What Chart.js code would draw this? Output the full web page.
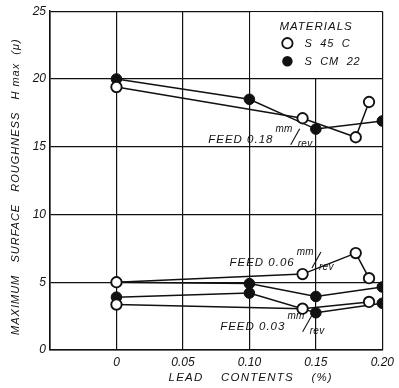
<!DOCTYPE html>
<html>
<head>
<meta charset="utf-8">
<script src="https://cdn.jsdelivr.net/npm/chart.js@4/dist/chart.umd.min.js"></script>
<style>
  html, body { margin: 0; padding: 0; background: #fff; }
  canvas { display: block; }
</style>
</head>
<body>
<canvas id="roughness" width="399" height="388"></canvas>
<script>
// lead content (%) at which each steel was tested
const leadScm22 = [0, 0.10, 0.15, 0.20];
const leadS45c = [0, 0.14, 0.18, 0.19];
const leadS45cFine = [0, 0.14, 0.19];

// H max (micron) per feed rate
const scm22Feed018 = [20.0, 18.5, 16.3, 16.9];
const s45cFeed018 = [19.4, 17.1, 15.7, 18.3];
const scm22Feed006 = [5.0, 4.9, 3.95, 4.65];
const s45cFeed006 = [5.0, 5.6, 7.15, 5.3];
const scm22Feed003 = [3.9, 4.2, 2.75, 3.45];
const s45cFeed003 = [3.35, 3.05, 3.55];

const feedRates = ['0.18', '0.06', '0.03'];
const materials = ['S 45 C', 'S CM 22'];

const xTicks = [-0.05, 0, 0.05, 0.10, 0.15, 0.20];
const xTickLabels = ['', '0', '0.05', '0.10', '0.15', '0.20'];
const yTicks = [0, 5, 10, 15, 20, 25];

const FONT = '"Liberation Sans", Arial, sans-serif';
const INK = '#111';

const pts = (xs, ys) => xs.map((x, i) => ({ x, y: ys[i] }));

function filled(data) {
  return { data, borderColor: INK, backgroundColor: INK, pointBackgroundColor: INK,
    pointBorderColor: INK, borderWidth: 1.5, pointRadius: 5.3, pointBorderWidth: 1 };
}
function open(data) {
  return { data, borderColor: INK, backgroundColor: '#fff', pointBackgroundColor: '#fff',
    pointBorderColor: INK, borderWidth: 1.5, pointRadius: 5.2, pointBorderWidth: 1.9 };
}

function spaced(ctx, text, x, y, spacing) {
  ctx.letterSpacing = spacing + 'px';
  ctx.fillText(text, x, y);
  ctx.letterSpacing = '0px';
}

// "FEED 0.18 mm/rev" with the unit set as a stacked fraction
function feedLabel(ctx, px, py, rate) {
  ctx.textAlign = 'left';
  ctx.textBaseline = 'alphabetic';
  ctx.font = 'italic 11.5px ' + FONT;
  ctx.letterSpacing = '1px';
  const main = 'FEED ' + rate;
  ctx.fillText(main, px, py);
  const cx = px + ctx.measureText(main).width + 2;
  ctx.font = 'italic 10px ' + FONT;
  ctx.letterSpacing = '0.3px';
  ctx.fillText('mm', cx, py - 11);
  const mw = ctx.measureText('mm').width;
  ctx.beginPath();
  ctx.moveTo(cx + mw - 2, py + 2);
  ctx.lineTo(cx + mw + 7, py - 14);
  ctx.lineWidth = 1.1;
  ctx.strokeStyle = INK;
  ctx.stroke();
  ctx.fillText('rev', cx + mw + 5, py + 4);
  ctx.letterSpacing = '0px';
}

const annotate = {
  id: 'annotate',
  beforeDatasetsDraw(chart) {
    // legend panel blanks out the grid in the top-right cell
    const { ctx, scales: { x, y } } = chart;
    const l = x.getPixelForValue(0.10), r = x.getPixelForValue(0.20);
    const t = y.getPixelForValue(25), b = y.getPixelForValue(20);
    ctx.save();
    ctx.fillStyle = '#fff';
    ctx.fillRect(l + 1, t + 1, r - l - 2, b - t - 2);
    ctx.restore();
  },
  afterDraw(chart) {
    const { ctx, chartArea: ca, scales: { x, y } } = chart;
    ctx.save();
    ctx.fillStyle = INK;

    // legend
    const lx = x.getPixelForValue(0.10) + 30;
    ctx.font = 'italic 11.5px ' + FONT;
    ctx.textAlign = 'left';
    ctx.textBaseline = 'alphabetic';
    spaced(ctx, 'MATERIALS', lx, ca.top + 19, 1);
    const rows = [ca.top + 36, ca.top + 54];
    materials.forEach((name, i) => {
      ctx.beginPath();
      ctx.arc(lx + 8, rows[i] - 4, 5.2, 0, Math.PI * 2);
      if (i === 0) {
        ctx.fillStyle = '#fff'; ctx.fill();
        ctx.lineWidth = 1.8; ctx.strokeStyle = INK; ctx.stroke();
      } else {
        ctx.fillStyle = INK; ctx.fill();
      }
      ctx.fillStyle = INK;
      ctx.font = 'italic 11px ' + FONT;
      spaced(ctx, name.replace(/ /g, '  '), lx + 25, rows[i], 0.8);
    });

    // feed rate captions
    feedLabel(ctx, x.getPixelForValue(0.069), y.getPixelForValue(15.3), feedRates[0]);
    feedLabel(ctx, x.getPixelForValue(0.085), y.getPixelForValue(6.2), feedRates[1]);
    feedLabel(ctx, x.getPixelForValue(0.078), y.getPixelForValue(1.5), feedRates[2]);

    // axis titles
    ctx.font = 'italic 11.5px ' + FONT;
    ctx.textAlign = 'center';
    ctx.textBaseline = 'alphabetic';
    spaced(ctx, 'LEAD    CONTENTS    (%)', x.getPixelForValue(0.101), ca.bottom + 31, 1.2);

    ctx.translate(ca.left - 31, (ca.top + ca.bottom) / 2 + 6);
    ctx.rotate(-Math.PI / 2);
    ctx.font = 'italic 11px ' + FONT;
    spaced(ctx, 'MAXIMUM   SURFACE   ROUGHNESS   H max  (\u03bc)', 0, 0, 1.0);
    ctx.restore();
  }
};

new Chart(document.getElementById('roughness'), {
  type: 'line',
  data: {
    // earlier datasets are painted last, so the open circles stay on top
    datasets: [
      open(pts(leadS45c, s45cFeed018)),
      open(pts(leadS45c, s45cFeed006)),
      open(pts(leadS45cFine, s45cFeed003)),
      filled(pts(leadScm22, scm22Feed018)),
      filled(pts(leadScm22, scm22Feed006)),
      filled(pts(leadScm22, scm22Feed003))
    ]
  },
  options: {
    responsive: false,
    animation: false,
    layout: { autoPadding: false, padding: { left: 0, right: 8, top: 11, bottom: 0 } },
    plugins: { legend: { display: false }, tooltip: { enabled: false } },
    elements: { line: { tension: 0, fill: false } },
    scales: {
      x: {
        type: 'linear',
        min: -0.05,
        max: 0.20,
        afterBuildTicks: (scale) => { scale.ticks = xTicks.map((value) => ({ value })); },
        afterFit: (scale) => { scale.height = 38; },
        grid: { color: INK, lineWidth: 1.2, drawTicks: false },
        border: { color: INK, width: 1.6 },
        ticks: {
          padding: 5,
          color: INK,
          maxRotation: 0,
          font: { family: FONT, size: 12, style: 'italic' },
          callback: (v, i) => xTickLabels[i]
        }
      },
      y: {
        min: 0,
        max: 25,
        afterBuildTicks: (scale) => { scale.ticks = yTicks.map((value) => ({ value })); },
        afterFit: (scale) => { scale.width = 50; },
        grid: { color: INK, lineWidth: 1.2, drawTicks: false },
        border: { color: INK, width: 1.6 },
        ticks: {
          padding: 4,
          color: INK,
          font: { family: FONT, size: 12, style: 'italic' }
        }
      }
    }
  },
  plugins: [annotate]
});
</script>
</body>
</html>
